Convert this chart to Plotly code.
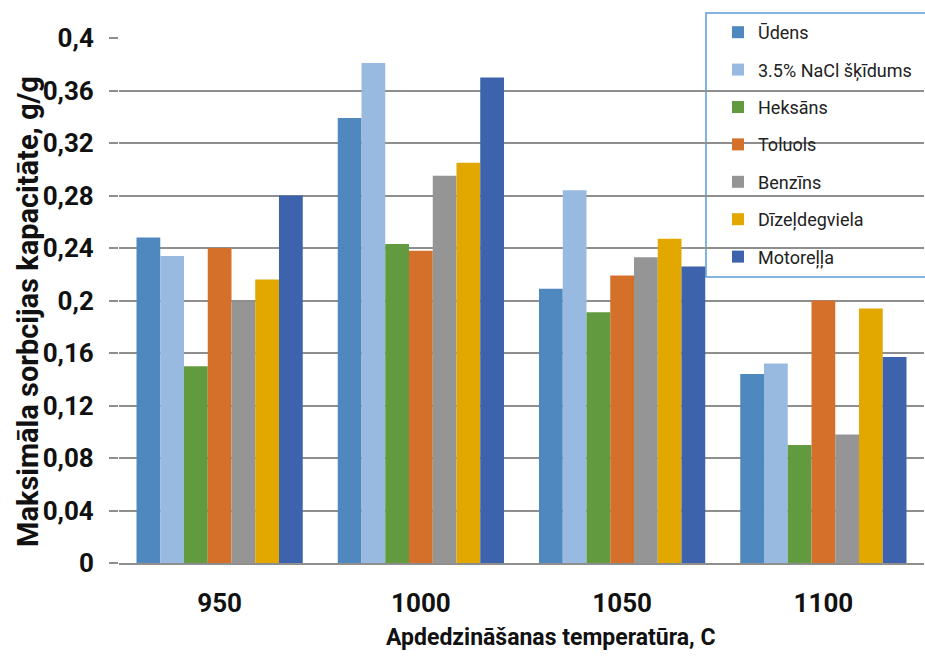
import plotly.graph_objects as go

categories = ["950", "1000", "1050", "1100"]
series_names = ["Ūdens", "3.5% NaCl šķīdums", "Heksāns", "Toluols", "Benzīns", "Dīzeļdegviela", "Motoreļļa"]
udens = [0.248, 0.339, 0.209, 0.144]
nacl = [0.234, 0.381, 0.284, 0.152]
heksans = [0.150, 0.243, 0.191, 0.090]
toluols = [0.240, 0.238, 0.219, 0.200]
benzins = [0.199, 0.295, 0.233, 0.098]
dizel = [0.216, 0.305, 0.247, 0.194]
motorella = [0.280, 0.370, 0.226, 0.157]
series_values = [udens, nacl, heksans, toluols, benzins, dizel, motorella]
colors = ["#4F88BE", "#98B9E0", "#629A3F", "#D4702A", "#959595", "#E2A800", "#3C63AC"]
y_tickvals = [0, 0.04, 0.08, 0.12, 0.16, 0.2, 0.24, 0.28, 0.32, 0.36, 0.4]
y_ticktext = ["0", "0,04", "0,08", "0,12", "0,16", "0,2", "0,24", "0,28", "0,32", "0,36", "0,4"]
y_title = "Maksimāla sorbcijas kapacitāte, g/g"
x_title = "Apdedzināšanas temperatūra, C"

W, H = 925, 666
ML, MR, MT, MB = 119, 1, 38, 103
PW = W - ML - MR
PH = H - MT - MB

def px_x(p):
    return (p - ML) / PW

def px_y(p):
    return (H - MB - p) / PH

FONT = "Roboto, Noto Sans, sans-serif"
GRID = "#8E8E8E"

fig = go.Figure()
for i, (name, vals, col) in enumerate(zip(series_names, series_values, colors)):
    fig.add_trace(go.Bar(x=categories, y=vals, name=name, marker=dict(color=col, line=dict(width=0)),
                         legendgroup="g%d" % i))

fig.update_layout(
    width=W, height=H,
    margin=dict(l=ML, r=MR, t=MT, b=MB),
    paper_bgcolor="white", plot_bgcolor="white",
    barmode="group", bargap=0.174, bargroupgap=0,
    font=dict(family=FONT, color="#111111"),
    showlegend=True,
    legend=dict(x=px_x(718), y=px_y(14), xanchor="left", yanchor="top",
                bgcolor="rgba(0,0,0,0)", borderwidth=0,
                font=dict(family=FONT, size=18, color="#222222"),
                traceorder="grouped", tracegroupgap=11),
    xaxis=dict(type="category", showgrid=False, showline=True, linecolor=GRID, linewidth=1.5,
               ticks="outside", ticklen=16, tickcolor="rgba(0,0,0,0)",
               tickfont=dict(family=FONT, size=26, color="#111111", weight="bold")),
    yaxis=dict(range=[0, 0.4], tickvals=y_tickvals, ticktext=y_ticktext,
               showgrid=True, gridcolor=GRID, gridwidth=1.5, zeroline=False, showline=False,
               ticks="outside", ticklen=9, tickcolor=GRID, tickwidth=1.5,
               ticklabelstandoff=10,
               tickfont=dict(family=FONT, size=26, color="#111111", weight="bold")),
    shapes=[dict(type="rect", xref="paper", yref="paper", x0=px_x(706), x1=px_x(940),
                 y0=px_y(277), y1=px_y(13), fillcolor="white",
                 line=dict(color="#5B9BD5", width=1.5), layer="between")],
    annotations=[
        dict(text=y_title, xref="paper", yref="paper", x=px_x(28), y=px_y(312), textangle=-90,
             showarrow=False, xanchor="center", yanchor="middle",
             font=dict(family=FONT, size=29, color="#111111", weight="bold")),
        dict(text=x_title, xref="paper", yref="paper", x=px_x(550), y=px_y(637),
             showarrow=False, xanchor="center", yanchor="middle",
             font=dict(family=FONT, size=23, color="#111111", weight="bold")),
    ],
)

fig.write_html("out.html")
